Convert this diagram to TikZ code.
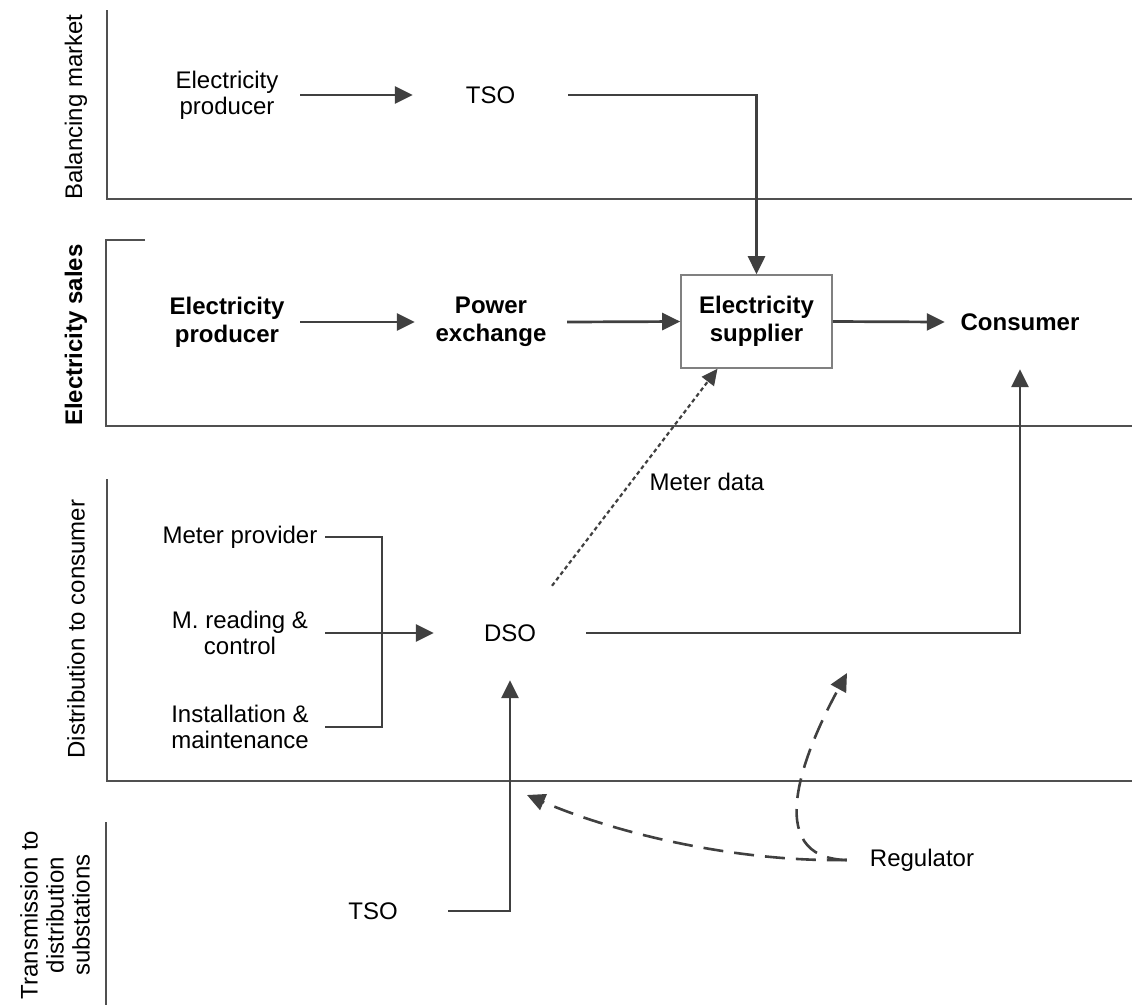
\documentclass[tikz,border=0pt]{standalone}
\usepackage{fontspec}
\setmainfont{Liberation Sans}
\usetikzlibrary{arrows.meta}

\definecolor{linec}{HTML}{404040}
\definecolor{lanec}{HTML}{505050}
\definecolor{boxc}{HTML}{808080}

\tikzset{
  txt/.style={font=\fontsize{24}{26}\selectfont, align=center, inner sep=0pt, text=black},
  btxt/.style={font=\bfseries\fontsize{24}{28}\selectfont, align=center, inner sep=0pt, text=black},
  slot/.style={minimum height=94pt},
  lane/.style={draw=lanec, line width=1.6pt},
  ln/.style={draw=linec, line width=2.7pt},
  arr/.style={ln, -{Triangle[length=18pt,width=17pt]}},
  dotarr/.style={draw=linec, line width=2.2pt, dash pattern=on 4pt off 3pt,
                 -{Triangle[length=16pt,width=15pt]}},
  dasharr/.style={draw=linec, line width=2.6pt, dash pattern=on 20pt off 11pt,
                  -{Triangle[length=18pt,width=17pt]}},
  supbox/.style={btxt, draw=boxc, line width=1.6pt, fill=white,
                 minimum width=151pt, minimum height=93pt}
}

\begin{document}
\begin{tikzpicture}[x=1pt, y=-1pt]
\useasboundingbox (0,0) rectangle (1132,1005);

% swimlane borders
\draw[lane] (107,10) -- (107,199) -- (1132,199);
\draw[lane] (145,240) -- (106,240) -- (106,426) -- (1132,426);
\draw[lane] (107,479) -- (107,781) -- (1132,781);
\draw[lane] (106,822) -- (106,1005);

% swimlane titles
\node[txt, rotate=90] (laneA) at (76,107) {Balancing market};
\node[btxt, rotate=90] (laneB) at (76,335) {Electricity sales};
\node[txt, rotate=90] (laneC) at (76,629) {Distribution to consumer};
\node[txt, rotate=90] (laneD) at (55,915) {Transmission to\\distribution\\substations};

% balancing market
\node[txt, slot, minimum width=146pt] (bprod) at (227,95) {Electricity\\producer};
\node[txt, slot, minimum width=155pt] (tsoA) at (490.5,95) {TSO};

% electricity sales
\node[btxt, slot, minimum width=146pt] (sprod) at (227,322) {Electricity\\producer};
\node[btxt, slot, minimum width=152pt] (pex) at (491,322) {Power\\exchange};
\node[supbox] (sup) at (756.5,321.5) {Electricity\\supplier};
\node[btxt, slot, minimum width=150pt] (con) at (1020,322) {Consumer};

% distribution to consumer
\node[txt, minimum width=170pt] (mp) at (240,537) {Meter provider};
\node[txt, minimum width=170pt] (mr) at (240,633) {M. reading \&\\control};
\node[txt, minimum width=170pt] (inst) at (240,727) {Installation \&\\maintenance};
\node[txt, slot, minimum width=152pt] (dso) at (510,633) {DSO};
\node[txt] (mdata) at (707,482) {Meter data};
\coordinate (jn) at (382,633);

% transmission to distribution substations
\node[txt, slot, minimum width=150pt] (tsoB) at (373,911) {TSO};
\node[txt, slot, minimum width=150pt] (reg) at (922,860) {Regulator};
\coordinate (regA) at (527,795);
\coordinate (regB) at (847,673);

% flows
\draw[arr] (bprod.east) -- (tsoA.west);
\draw[arr] (tsoA.east) -| (sup.north);
\draw[arr] (sprod.east) -- (pex.west);
\draw[arr] (pex.east) -- (sup.west);
\draw[arr] (sup.east) -- (con.west);
\draw[ln] (mp.east) -| (jn) |- (inst.east);
\draw[arr] (mr.east) -- (dso.west);
\draw[arr] (dso.east) -| (con.south);
\draw[arr] (tsoB.east) -| (dso.south);
\draw[dotarr] ([xshift=42pt]dso.north) -- ([xshift=-39pt]sup.south);
\draw[dasharr] (reg.west) .. controls (740,862) and (620,835) .. (regA);
\draw[dasharr] (reg.west) .. controls (760,858) and (805,750) .. (regB);
\end{tikzpicture}
\end{document}
